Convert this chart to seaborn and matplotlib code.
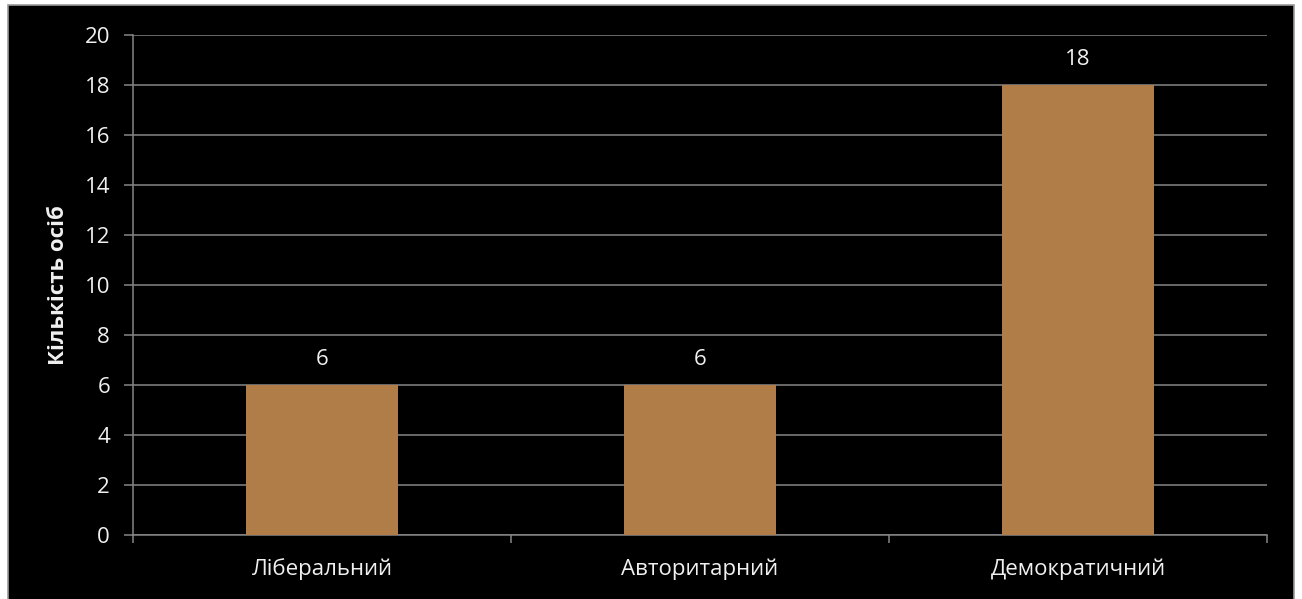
import matplotlib
matplotlib.use("Agg")
import matplotlib.pyplot as plt
from matplotlib.patches import Rectangle
import seaborn as sns
import pandas as pd

# Leadership style survey
categories = ["Ліберальний", "Авторитарний", "Демократичний"]
counts = [6, 6, 18]
y_label = "Кількість осіб"
y_ticks = [0, 2, 4, 6, 8, 10, 12, 14, 16, 18, 20]

sns.set_theme(style="dark")
plt.rcParams["font.family"] = ["Open Sans", "DejaVu Sans"]

bar_color = "#B07D48"
grid_color = "#868686"
text_color = "#F0F0F0"

W, H = 1302, 599
fig = plt.figure(figsize=(W / 100, H / 100), dpi=100, facecolor="white")

# black panel with thin grey frame
fig.patches.append(Rectangle((8 / W, -0.01), (1294 - 8) / W, 1.01 - 5 / H,
                             transform=fig.transFigure, facecolor="black",
                             edgecolor="#9A9A9A", linewidth=1.2, zorder=-10))

ax = fig.add_axes([133 / W, 1 - 535 / H, (1267 - 133) / W, (535 - 35) / H])
ax.set_zorder(5)
ax.set_facecolor("black")

df = pd.DataFrame({"style": categories, "count": counts})
sns.barplot(data=df, x="style", y="count", color=bar_color, saturation=1,
            width=0.4, linewidth=0, ax=ax, zorder=3)

ax.set_ylim(0, 20)
ax.set_xlim(-0.5, len(categories) - 0.5)
ax.set_yticks(y_ticks)
ax.yaxis.grid(True, color=grid_color, linewidth=1.1, zorder=1)
ax.xaxis.grid(False)

for s in ["top", "right"]:
    ax.spines[s].set_visible(False)
ax.spines["left"].set_color(grid_color)
ax.spines["bottom"].set_color(grid_color)
ax.spines["left"].set_linewidth(1.1)
ax.spines["bottom"].set_linewidth(1.1)

ax.tick_params(axis="y", colors=grid_color, labelcolor=text_color, length=6.5,
               width=1.1, pad=10, labelsize=16, direction="out", left=True)
ax.tick_params(axis="x", which="major", length=0, pad=17, labelcolor=text_color,
               labelsize=16)
ax.set_xticks([i - 0.5 for i in range(len(categories) + 1)], minor=True)
ax.tick_params(axis="x", which="minor", length=6, width=1.1, colors=grid_color,
               direction="out", bottom=True)

ax.set_xlabel("")
ax.set_ylabel(y_label, color=text_color, fontsize=16, fontweight="bold", labelpad=11)

for i, v in enumerate(counts):
    ax.annotate(f"{v}", (i, v), xytext=(0, 11), textcoords="offset points",
                ha="center", va="bottom", color=text_color, fontsize=16)

fig.savefig("out.png", dpi=100, facecolor=fig.get_facecolor())
